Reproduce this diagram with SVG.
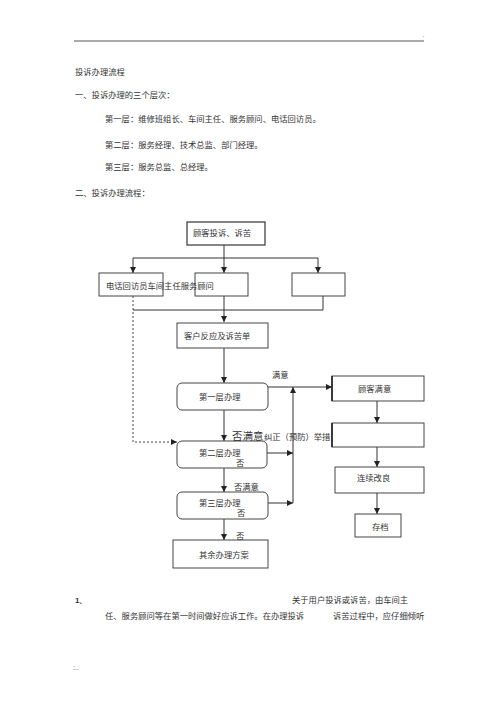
<svg xmlns="http://www.w3.org/2000/svg" width="500" height="708" viewBox="0 0 500 708">
<defs>
<style>
text{font-family:"Noto Sans CJK SC","Liberation Sans",sans-serif;font-size:8.3px;fill:#333}
.box{fill:#fff;stroke:#444;stroke-width:1}
.ln{fill:none;stroke:#333;stroke-width:1}
.dash{fill:none;stroke:#444;stroke-width:1;stroke-dasharray:2,2}
</style>
<marker id="ah" viewBox="0 0 8 8" refX="8" refY="4" markerWidth="6" markerHeight="6" orient="auto" markerUnits="userSpaceOnUse">
<path d="M0,0 L8,4 L0,8 z" fill="#222"/>
</marker>
</defs>
<rect width="500" height="708" fill="#fff"/>
<line x1="74" y1="41" x2="424" y2="41" stroke="#555" stroke-width="1"/>
<text x="421" y="38" style="font-size:5px;fill:#aaa">·</text>

<g id="header">
<text x="75" y="75">投诉办理流程</text>
<text x="75" y="98">一、投诉办理的三个层次：</text>
<text x="105" y="122">第一层：维修班组长、车间主任、服务顾问、电话回访员。</text>
<text x="105" y="148">第二层：服务经理、技术总监、部门经理。</text>
<text x="105" y="170">第三层：服务总监、总经理。</text>
<text x="75" y="196">二、投诉办理流程：</text>
</g>

<g id="connectors">
<line class="ln" x1="224" y1="245" x2="224" y2="273" marker-end="url(#ah)"/>
<line class="ln" x1="133" y1="258" x2="318" y2="258"/>
<line class="ln" x1="133" y1="258" x2="133" y2="273" marker-end="url(#ah)"/>
<line class="ln" x1="318" y1="258" x2="318" y2="273" marker-end="url(#ah)"/>
<line class="ln" x1="323" y1="296" x2="323" y2="310"/>
<line class="ln" x1="133" y1="310" x2="323" y2="310"/>
<line class="ln" x1="224" y1="296" x2="224" y2="322" marker-end="url(#ah)"/>
<polyline class="dash" points="133,296 133,442 177,442" marker-end="url(#ah)"/>
<line class="ln" x1="224" y1="348" x2="224" y2="383" marker-end="url(#ah)"/>
<line class="ln" x1="268" y1="387" x2="332" y2="387" marker-end="url(#ah)"/>
<line class="ln" x1="224" y1="410" x2="224" y2="441" marker-end="url(#ah)"/>
<line class="ln" x1="267" y1="453" x2="293" y2="453" marker-end="url(#ah)"/>
<line class="ln" x1="224" y1="468" x2="224" y2="492" marker-end="url(#ah)"/>
<line class="ln" x1="268" y1="503" x2="293" y2="503" marker-end="url(#ah)"/>
<line class="ln" x1="293" y1="503" x2="293" y2="387" marker-end="url(#ah)"/>
<line class="ln" x1="224" y1="519" x2="224" y2="540" marker-end="url(#ah)"/>
<line class="ln" x1="377" y1="401" x2="377" y2="423" marker-end="url(#ah)"/>
<line class="ln" x1="377" y1="447" x2="377" y2="467" marker-end="url(#ah)"/>
<line class="ln" x1="377" y1="493" x2="377" y2="514" marker-end="url(#ah)"/>
</g>

<g id="n-complaint"><rect class="box" x="187" y="222" width="78" height="23" style="stroke-width:1.3"/><text x="193" y="236">顾客投诉、诉苦</text></g>
<g id="n-left"><rect class="box" x="99" y="273" width="64" height="23"/></g>
<g id="n-mid"><rect class="box" x="195" y="273" width="53" height="23"/></g>
<g id="n-right"><rect class="box" x="292" y="273" width="53" height="23"/></g>
<g id="n-left-label"><text x="106" y="289">电话回访员车间主任服务顾问</text></g>
<g id="n-form"><rect class="box" x="177" y="323" width="91" height="25"/><text x="184" y="339">客户反应及诉苦单</text></g>
<g id="n-l1"><rect class="box" x="177" y="383" width="91" height="27" rx="5"/><text x="199" y="400">第一层办理</text></g>
<g id="n-l2"><rect class="box" x="177" y="441" width="90" height="27" rx="5"/><text x="199" y="456">第二层办理</text><text x="236" y="466">否</text></g>
<g id="n-l3"><rect class="box" x="177" y="492" width="91" height="27" rx="5"/><text x="199" y="506">第三层办理</text><text x="237" y="516">否</text></g>
<g id="n-other"><rect class="box" x="173" y="540" width="95" height="28"/><text x="199" y="558">其余办理方案</text></g>
<g id="n-satisfied"><rect class="box" x="332" y="376" width="92" height="25"/><line x1="332" y1="376" x2="332" y2="401" stroke="#222" stroke-width="1.6"/><text x="358" y="392">顾客满意</text></g>
<g id="n-empty"><rect class="box" x="332" y="423" width="92" height="24"/><line x1="332" y1="423" x2="332" y2="447" stroke="#222" stroke-width="1.6"/></g>
<g id="n-improve"><rect class="box" x="335" y="467" width="89" height="26"/><text x="357" y="481">连续改良</text></g>
<g id="n-archive"><rect class="box" x="355" y="514" width="46" height="23"/><text x="372" y="530">存档</text></g>

<g id="labels">
<text x="272" y="378">满意</text>
<text x="232" y="440" style="font-size:10.5px">否满意</text>
<text x="264" y="440">纠正（预防）举措</text>
<text x="234" y="490">否满意</text>
<text x="236" y="539">否</text>
</g>

<g id="footer">
<text x="75" y="603" style="font-family:'Liberation Sans',sans-serif;font-weight:bold;font-size:8px">1、</text>
<text x="292" y="603">关于用户投诉或诉苦，由车间主</text>
<text x="105" y="619">任、服务顾问等在第一时间做好应诉工作。在办理投诉</text>
<text x="333" y="619">诉苦过程中，应仔细倾听</text>
<text x="73" y="670" style="font-size:7px;fill:#777">:..</text>
</g>
</svg>
